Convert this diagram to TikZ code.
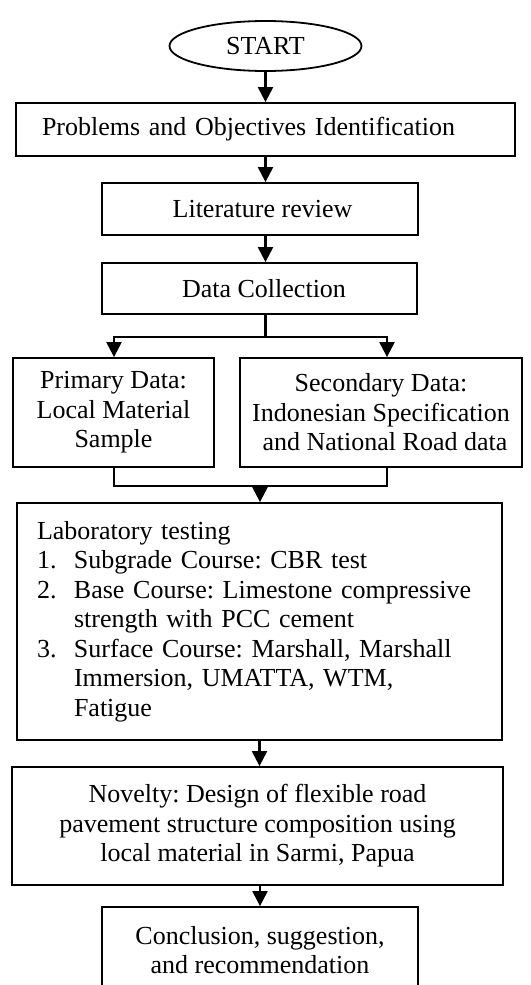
\documentclass[tikz,border=0pt]{standalone}
\usepackage{fontspec}
\setmainfont{Liberation Serif}
\usetikzlibrary{arrows.meta,shapes.geometric}
\frenchspacing
\begin{document}
\begin{tikzpicture}[x=1pt,y=-1pt,
  txt/.style={font=\fontsize{26}{29.5}\selectfont\frenchspacing},
  box/.style={draw,line width=1.8pt,rectangle,inner sep=0pt,align=center,txt},
  conn/.style={line width=2.2pt,line join=miter},
  arr/.style={conn,-{Triangle[width=15pt,length=15pt]}}]
\clip (0,0) rectangle (530,985);
\node[draw,line width=1.8pt,ellipse,minimum width=192pt,minimum height=50pt,inner sep=0pt,txt] (start) at (265.5,46) {START};
\node[box,minimum width=499pt,minimum height=53pt,text width=447pt,align=left] (prob) at (265.5,129.5) {Problems and Objectives Identification};
\node[box,minimum width=316pt,minimum height=52pt] (lit) at (260,209) {\hspace*{5pt}Literature review};
\node[box,minimum width=315pt,minimum height=51pt] (dc) at (259.5,288.5) {\hspace*{9pt}Data Collection};
\node[box,minimum width=201pt,minimum height=109pt] (prim) at (113.5,412.5) {Primary Data:\\Local Material\\Sample};
\node[box,minimum width=282pt,minimum height=109pt] (sec) at (381,412.5) {Secondary Data:\\Indonesian Specification\\\hspace*{8pt}and National Road data};
\node[box,minimum width=485pt,minimum height=237pt,text width=445pt,align=left] (lab) at (259.5,621.5) {Laboratory testing\\
\makebox[37pt][l]{1.}Subgrade Course: CBR test\\
\makebox[37pt][l]{2.}Base Course: Limestone compressive\\
\hspace*{37pt}strength with PCC cement\\
\makebox[37pt][l]{3.}Surface Course: Marshall, Marshall\\
\hspace*{37pt}Immersion, UMATTA, WTM,\\
\hspace*{37pt}Fatigue};
\node[box,minimum width=491pt,minimum height=118pt] (nov) at (257.5,826) {Novelty: Design of flexible road\\pavement structure composition using\\local material in Sarmi, Papua};
\node[box,minimum width=316pt,minimum height=86pt] (conc) at (260,950) {Conclusion, suggestion,\\and recommendation};
\coordinate (split) at (265.5,337);
\coordinate (pl) at (114,337);
\coordinate (pr) at (387,337);
\coordinate (ml) at (114,486);
\coordinate (mr) at (387,486);
\coordinate (mm) at (260,486);
\draw[arr] (start) -- (prob);
\draw[arr] (prob.south -| start) -- (lit.north -| start);
\draw[arr] (lit.south -| start) -- (dc.north -| start);
\draw[conn] (dc.south -| split) -- (split);
\draw[arr] (split) -| (prim.north -| pl);
\draw[arr] (split) -| (sec.north -| pr);
\draw[conn] (prim.south -| ml) -- (ml) -- (mr) -- (sec.south -| mr);
\draw[arr] (mm) -- (lab.north -| mm);
\draw[arr] (lab.south) -- (lab.south |- nov.north);
\draw[arr] (conc.north |- nov.south) -- (conc.north);
\end{tikzpicture}
\end{document}
